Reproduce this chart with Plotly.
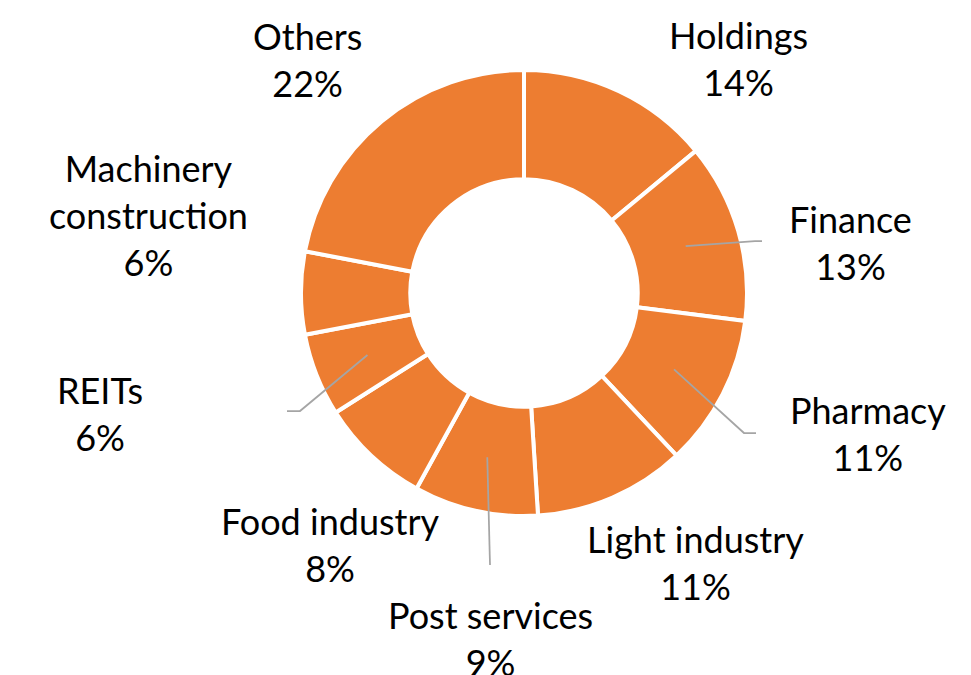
import math
import plotly.graph_objects as go

categories = ["Holdings", "Finance", "Pharmacy", "Light industry", "Post services",
              "Food industry", "REITs", "Machinery construction", "Others"]
values = [14, 13, 11, 11, 9, 8, 6, 6, 22]
label_text = ["Holdings", "Finance", "Pharmacy", "Light industry", "Post services",
              "Food industry", "REITs", "Machinery<br>construction", "Others"]

W, H = 971, 675
OFF = 8  # page body margin compensation
CX, CY, R = 524 - OFF, 293 - OFF, 223
HOLE = 0.51

# label centre positions (page pixels) - layout only
label_pos = {
    "Holdings": (738, 60),
    "Finance": (850, 244),
    "Pharmacy": (868, 436),
    "Light industry": (695, 564),
    "Post services": (490, 640),
    "Food industry": (330, 546),
    "REITs": (100, 415),
    "Machinery construction": (148, 217),
    "Others": (307, 61),
}
# leader line geometry (page pixels): bend point and end point
leaders = {
    "Finance": [(755, 241), (762, 241)],
    "Pharmacy": [(744, 433), (756, 433)],
    "Post services": [(490, 565)],
    "REITs": [(300, 411), (287, 411)],
}

fig = go.Figure(go.Pie(
    labels=categories, values=values, sort=False, direction="clockwise", rotation=0,
    hole=HOLE, textinfo="none", hoverinfo="label+percent",
    marker=dict(colors=["#ED7D31"] * len(values), line=dict(color="white", width=4)),
    domain=dict(x=[(CX - R) / W, (CX + R) / W], y=[(H - CY - R) / H, (H - CY + R) / H]),
    showlegend=False,
))

def px2paper(x, y):
    return x / W, 1 - y / H

annotations = []
for name, txt, v in zip(categories, label_text, values):
    x, y = label_pos[name]
    px, py = px2paper(x - OFF, y - OFF - 2)
    annotations.append(dict(
        x=px, y=py, xref="paper", yref="paper", showarrow=False,
        text=f"{txt}<br>{v}%", xanchor="center", yanchor="middle",
        font=dict(family="Lato", size=36, color="black"), align="center",
    ))

shapes = []
total = sum(values)
cum = 0
mid_r = R * (1 + HOLE) / 2
for name, v in zip(categories, values):
    mid = (cum + v / 2) / total * 2 * math.pi
    cum += v
    if name in leaders:
        sx = CX + mid_r * math.sin(mid)
        sy = CY - mid_r * math.cos(mid)
        pts = [(sx, sy)] + [(a - OFF, b - OFF) for a, b in leaders[name]]
        path = "M " + " L ".join(f"{px2paper(a, b)[0]:.5f},{px2paper(a, b)[1]:.5f}" for a, b in pts)
        shapes.append(dict(type="path", path=path, xref="paper", yref="paper",
                           line=dict(color="#A5A5A5", width=1.75)))

fig.update_layout(
    width=W, height=H, margin=dict(l=0, r=0, t=0, b=0),
    paper_bgcolor="white", plot_bgcolor="white",
    annotations=annotations, shapes=shapes,
)
fig.write_html("out.html")
